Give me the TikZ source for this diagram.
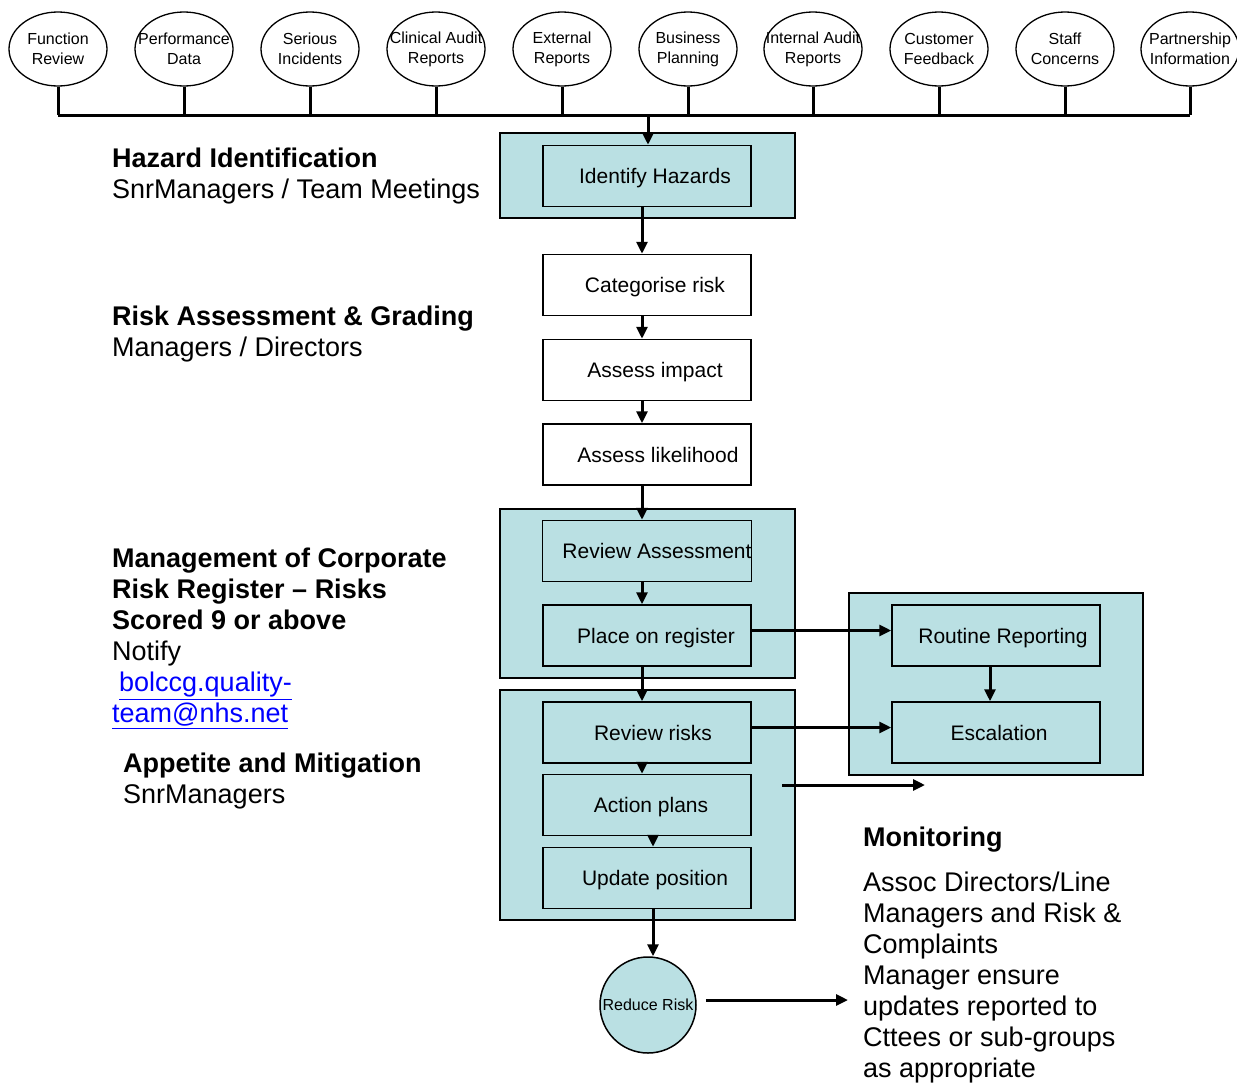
\documentclass[tikz,border=0pt]{standalone}
\usepackage{fontspec}
\setmainfont{Liberation Sans}
\usetikzlibrary{shapes.geometric,arrows.meta}
\definecolor{panelcol}{RGB}{186,224,227}
\definecolor{linkblue}{RGB}{0,0,255}
\newcommand{\twolines}[2]{\makebox[0pt]{#1}\\\makebox[0pt]{#2}}
\begin{document}
\begin{tikzpicture}[x=1pt,y=-1pt,
  src/.style={ellipse,draw,line width=1.3pt,minimum width=98pt,minimum height=74pt,inner sep=0pt,align=center,font=\fontsize{16}{20}\selectfont},
  stepbox/.style={draw,line width=1.5pt,minimum width=208pt,minimum height=61pt,inner sep=0pt,fill=white,text height=15pt,text depth=0pt,font=\fontsize{21}{25}\selectfont},
  cyanbox/.style={stepbox,fill=panelcol},
  panel/.style={draw,line width=1.5pt,fill=panelcol,inner sep=0pt},
  conn/.style={line width=3pt},
  arr/.style={line width=3pt,-{Triangle[length=12pt,width=11pt]}},
  note/.style={anchor=west,align=left,inner sep=0pt,font=\fontsize{27}{31}\selectfont}]
\useasboundingbox (0,0) rectangle (1237,1082);

% source ellipses
\node[src] (e1) at (58,49) {\twolines{Function}{Review}};
\node[src] (e2) at (184,49) {\twolines{Performance}{Data}};
\node[src] (e3) at (310,49) {\twolines{Serious}{Incidents}};
\node[src] (e4) at (436,49) {\twolines{Clinical Audit}{Reports}};
\node[src] (e5) at (562,49) {\twolines{External}{Reports}};
\node[src] (e6) at (688,49) {\twolines{Business}{Planning}};
\node[src] (e7) at (813,49) {\twolines{Internal Audit}{Reports}};
\node[src] (e8) at (939,49) {\twolines{Customer}{Feedback}};
\node[src] (e9) at (1065,49) {\twolines{Staff}{Concerns}};
\node[src] (e10) at (1190,49) {\twolines{Partnership}{Information}};

\coordinate (busL) at (58,115);
\coordinate (busR) at (1190,115);
\coordinate (busJ) at (648,115);
\draw[conn] (busL) -- (busR);
\foreach \e in {e1,e2,e3,e4,e5,e6,e7,e8,e9,e10}
  \draw[conn] (\e.south) -- (\e.south |- busL);

% panels
\node[panel,minimum width=295pt,minimum height=85pt] (p1) at (647.5,175.5) {};
\node[panel,minimum width=295pt,minimum height=169pt] (p2) at (647.5,593.5) {};
\node[panel,minimum width=295pt,minimum height=230pt] (p3) at (647.5,805) {};
\node[panel,minimum width=294pt,minimum height=182pt] (p4) at (996,684) {};

% steps
\node[cyanbox] (ih) at (647,176) {\hspace{16pt}Identify Hazards};
\node[stepbox] (cr) at (647,285) {\hspace{16pt}Categorise risk};
\node[stepbox] (ai) at (647,370) {\hspace{16pt}Assess impact};
\node[stepbox] (al) at (647,454.5) {\hspace{22pt}Assess likelihood};
\node[cyanbox] (ra) at (647,551) {\hspace{20pt}Review Assessment};
\node[cyanbox] (por) at (647,635.5) {\hspace{18pt}Place on register};
\node[cyanbox] (rr) at (647,732.5) {\hspace{12pt}Review risks};
\node[cyanbox] (ap) at (647,805) {\hspace{8pt}Action plans};
\node[cyanbox] (up) at (647,878) {\hspace{16pt}Update position};
\node[cyanbox] (rtr) at (996,635.5) {\hspace{14pt}Routine Reporting};
\node[cyanbox] (esc) at (996,732.5) {\hspace{6pt}Escalation};
\node[circle,draw,line width=1.5pt,fill=panelcol,minimum size=96pt,inner sep=0pt,font=\fontsize{16}{20}\selectfont] (rdr) at (648,1005) {Reduce Risk};

% connectors
\draw[arr] (busJ) -- (busJ |- ih.north);
\draw[arr] ([xshift=-5pt]ih.south) -- ([xshift=-5pt]cr.north);
\draw[arr] ([xshift=-5pt]cr.south) -- ([xshift=-5pt]ai.north);
\draw[arr] ([xshift=-5pt]ai.south) -- ([xshift=-5pt]al.north);
\draw[arr] ([xshift=-5pt]al.south) -- ([xshift=-5pt]ra.north);
\draw[arr] ([xshift=-5pt]ra.south) -- ([xshift=-5pt]por.north);
\draw[arr] ([xshift=-5pt]por.south) -- ([xshift=-5pt]rr.north);
\draw[arr] ([xshift=-5pt]rr.south) -- ([xshift=-5pt]ap.north);
\draw[arr] ([xshift=6pt]ap.south) -- ([xshift=6pt]up.north);
\draw[arr] ([xshift=6pt]up.south) -- ([xshift=6pt]up.south |- rdr.north);
\draw[arr] ([yshift=5pt]por.east) -- ([yshift=5pt]rtr.west);
\draw[arr] ([yshift=5pt]rr.east) -- ([yshift=5pt]esc.west);
\draw[arr] ([xshift=-6pt]rtr.south) -- ([xshift=-6pt]esc.north);
\coordinate (fa1) at (782,785);
\coordinate (fa2) at (925,785);
\draw[arr] (fa1) -- (fa2);
\coordinate (monin) at (848,1000);
\draw[arr] ([xshift=9pt,yshift=5pt]rdr.east) -- (monin);

% notes
\node[note] (hz) at (112,176) {\textbf{Hazard Identification}\\SnrManagers / Team Meetings};
\node[note] (rag) at (112,334) {\textbf{Risk Assessment \& Grading}\\Managers / Directors};
\node[note] (mcr) at (112,638.5) {\textbf{Management of Corporate}\\\textbf{Risk Register – Risks}\\\textbf{Scored 9 or above}\\Notify\\\hspace{7pt}\textcolor{linkblue}{\underline{bolccg.quality-}}\\\textcolor{linkblue}{\underline{team@nhs.net}}};
\node[note] (am) at (123,781) {\textbf{Appetite and Mitigation}\\SnrManagers};
\node[note] (mon) at (863,840) {\textbf{Monitoring}};
\node[note] (monb) at (863,978) {Assoc Directors/Line\\Managers and Risk \&\\Complaints\\Manager ensure\\updates reported to\\Cttees or sub-groups\\as appropriate};
\end{tikzpicture}
\end{document}
